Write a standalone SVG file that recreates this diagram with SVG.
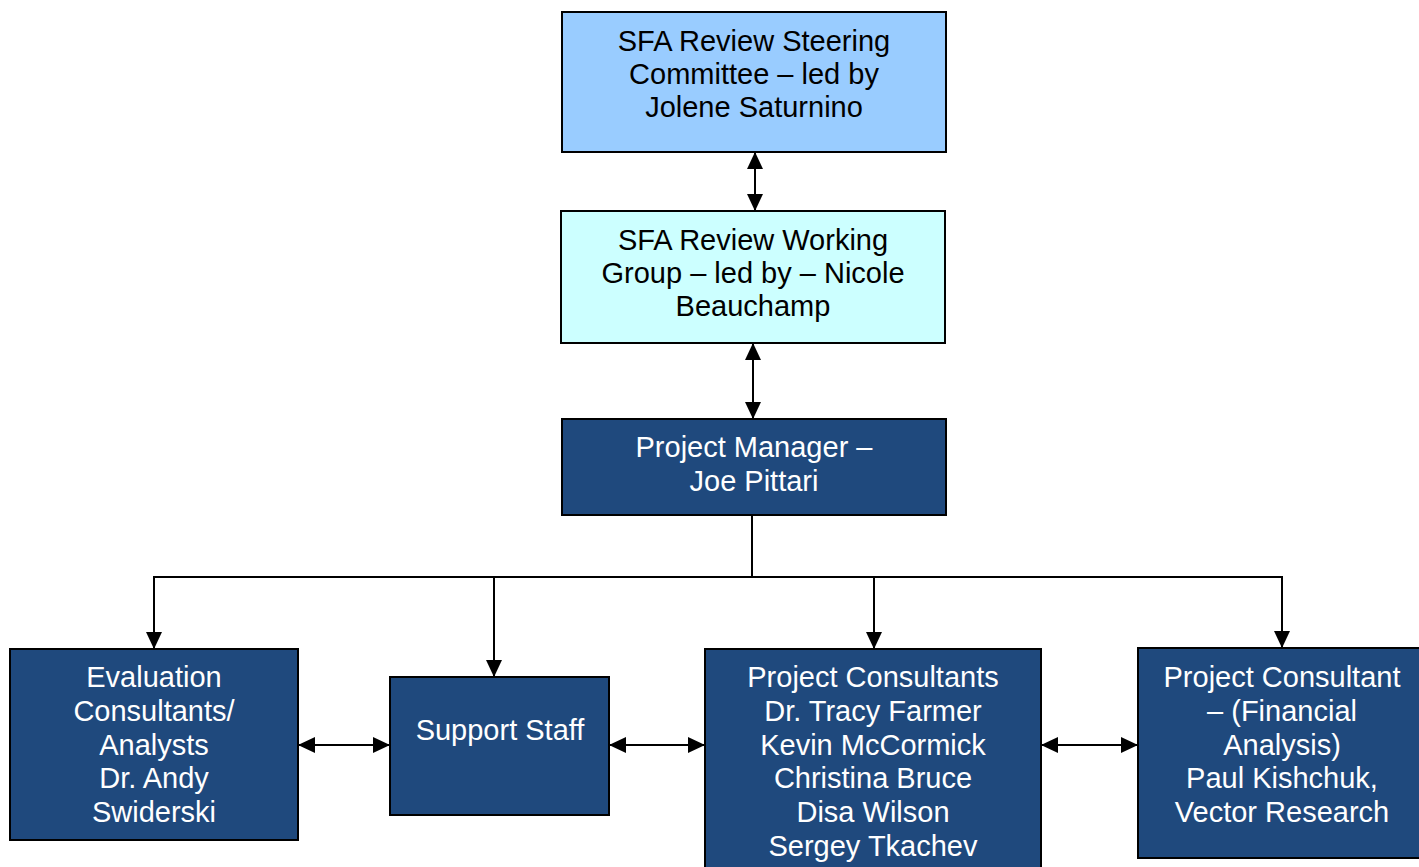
<svg xmlns="http://www.w3.org/2000/svg" width="1419" height="867" viewBox="0 0 1419 867">
<style>
.box{stroke:#000;stroke-width:2}
.dark{fill:#1F497D}
.t{font-family:"Liberation Sans",Arial,sans-serif;font-size:29px;text-anchor:middle}
.tw{fill:#fff}
.tb{fill:#000}
.c{stroke:#000;stroke-width:2;fill:none}
</style>
<defs>
<marker id="ah" markerUnits="userSpaceOnUse" markerWidth="17" markerHeight="16" refX="16" refY="8" orient="auto-start-reverse" viewBox="0 0 17 16">
<path d="M0,0 L17,8 L0,16 Z" fill="#000"/>
</marker>
</defs>
<rect width="1419" height="867" fill="#fff"/>
<g id="connectors">
<line class="c" x1="755" y1="153" x2="755" y2="210" marker-start="url(#ah)" marker-end="url(#ah)"/>
<line class="c" x1="753" y1="344" x2="753" y2="418" marker-start="url(#ah)" marker-end="url(#ah)"/>
<line class="c" x1="752" y1="516" x2="752" y2="577"/>
<line class="c" x1="153" y1="577" x2="1283" y2="577"/>
<line class="c" x1="154" y1="576" x2="154" y2="648" marker-end="url(#ah)"/>
<line class="c" x1="494" y1="577" x2="494" y2="676" marker-end="url(#ah)"/>
<line class="c" x1="874" y1="577" x2="874" y2="648" marker-end="url(#ah)"/>
<line class="c" x1="1282" y1="576" x2="1282" y2="647" marker-end="url(#ah)"/>
<line class="c" x1="299" y1="745" x2="389" y2="745" marker-start="url(#ah)" marker-end="url(#ah)"/>
<line class="c" x1="610" y1="745" x2="704" y2="745" marker-start="url(#ah)" marker-end="url(#ah)"/>
<line class="c" x1="1042" y1="745" x2="1137" y2="745" marker-start="url(#ah)" marker-end="url(#ah)"/>
</g>
<g id="steering">
<rect class="box" x="562" y="12" width="384" height="140" fill="#99CCFF"/>
<text class="t tb" x="754" y="51">SFA Review Steering</text>
<text class="t tb" x="754" y="84">Committee – led by</text>
<text class="t tb" x="754" y="117">Jolene Saturnino</text>
</g>
<g id="working">
<rect class="box" x="561" y="211" width="384" height="132" fill="#CCFFFF"/>
<text class="t tb" x="753" y="250">SFA Review Working</text>
<text class="t tb" x="753" y="283">Group – led by – Nicole</text>
<text class="t tb" x="753" y="316">Beauchamp</text>
</g>
<g id="pm">
<rect class="box dark" x="562" y="419" width="384" height="96"/>
<text class="t tw" x="754" y="457">Project Manager –</text>
<text class="t tw" x="754" y="491">Joe Pittari</text>
</g>
<g id="evaluation">
<rect class="box dark" x="10" y="649" width="288" height="191"/>
<text class="t tw" x="154" y="687">Evaluation</text>
<text class="t tw" x="154" y="721">Consultants/</text>
<text class="t tw" x="154" y="755">Analysts</text>
<text class="t tw" x="154" y="788">Dr. Andy</text>
<text class="t tw" x="154" y="822">Swiderski</text>
</g>
<g id="support">
<rect class="box dark" x="390" y="677" width="219" height="138"/>
<text class="t tw" x="500" y="740">Support Staff</text>
</g>
<g id="consultants">
<rect class="box dark" x="705" y="649" width="336" height="222"/>
<text class="t tw" x="873" y="687">Project Consultants</text>
<text class="t tw" x="873" y="721">Dr. Tracy Farmer</text>
<text class="t tw" x="873" y="755">Kevin McCormick</text>
<text class="t tw" x="873" y="788">Christina Bruce</text>
<text class="t tw" x="873" y="822">Disa Wilson</text>
<text class="t tw" x="873" y="856">Sergey Tkachev</text>
</g>
<g id="financial">
<rect class="box dark" x="1138" y="648" width="285" height="210"/>
<text class="t tw" x="1282" y="687">Project Consultant</text>
<text class="t tw" x="1282" y="721">– (Financial</text>
<text class="t tw" x="1282" y="755">Analysis)</text>
<text class="t tw" x="1282" y="788">Paul Kishchuk,</text>
<text class="t tw" x="1282" y="822">Vector Research</text>
</g>
</svg>
